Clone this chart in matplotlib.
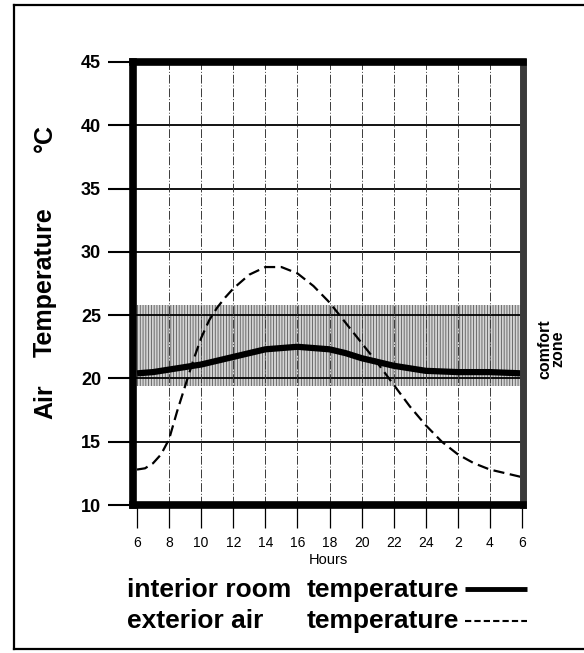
import matplotlib
matplotlib.use("Agg")
import matplotlib.pyplot as plt
from matplotlib.lines import Line2D

plt.rcParams['font.family'] = ['Liberation Sans', 'DejaVu Sans']
plt.rcParams['hatch.linewidth'] = 0.6

# hours of the day, 6 in the morning to 6 next morning (24 -> 30)
hours = [6, 6.5, 7, 7.5, 8, 8.5, 9, 9.5, 10, 10.5, 11, 11.5, 12, 13, 14, 15, 16, 17, 18,
         19, 20, 21, 22, 23, 24, 25, 26, 27, 28, 29, 30]
exterior = [12.8, 12.9, 13.3, 14.0, 15.2, 17.4, 19.4, 21.4, 23.2, 24.6, 25.6, 26.4, 27.1, 28.2, 28.8,
            28.8, 28.3, 27.3, 26.0, 24.4, 22.8, 21.2, 19.5, 17.8, 16.3, 15.0, 14.0, 13.3, 12.8,
            12.5, 12.2]
interior = [20.4, 20.45, 20.5, 20.6, 20.7, 20.8, 20.9, 21.0, 21.1, 21.25, 21.4, 21.55, 21.7, 22.0,
            22.3, 22.4, 22.5, 22.4, 22.3, 22.0, 21.6, 21.3, 21.0, 20.8, 20.6, 20.55, 20.5, 20.5,
            20.5, 20.45, 20.4]

comfort_low = 19.4
comfort_high = 25.8

xtick_pos = [6, 8, 10, 12, 14, 16, 18, 20, 22, 24, 26, 28, 30]
xtick_labels = ['6', '8', '10', '12', '14', '16', '18', '20', '22', '24', '2', '4', '6']
ytick_pos = [10, 15, 20, 25, 30, 35, 40, 45]

fig = plt.figure(figsize=(5.84, 6.53), dpi=100)
ax = fig.add_axes([133 / 584, 1 - 505 / 653, 390 / 584, 443 / 653])

ax.set_xlim(5.75, 30.06)
ax.set_ylim(10, 45)

# comfort zone, vertical hatching
ax.axhspan(comfort_low, comfort_high, facecolor='#d4d4d4', edgecolor='#5a5a5a',
           hatch='||||||', linewidth=0, zorder=1)

# grid
for y in ytick_pos[1:-1]:
    ax.axhline(y, color='black', lw=1.3, zorder=2)
for x in xtick_pos[1:-1]:
    ax.axvline(x, color='#3a3a3a', lw=0.7, ls=(0, (9, 2, 1, 2)), zorder=2)

ax.plot(hours, interior, color='black', lw=4.5, solid_capstyle='butt', zorder=4)
ax.plot(hours, exterior, color='black', lw=1.6, ls=(0, (5, 2.5)), zorder=5)

ax.set_yticks(ytick_pos)
ax.set_yticklabels([str(v) for v in ytick_pos], fontweight='bold', fontsize=13)
ax.set_xticks(xtick_pos)
ax.set_xticklabels(xtick_labels, fontsize=10)
ax.tick_params(axis='y', length=18, width=1.5, pad=5)
ax.tick_params(axis='x', length=16.5, width=0.9, pad=6)

for side in ['left', 'top', 'bottom']:
    ax.spines[side].set_linewidth(5.5)
ax.spines['right'].set_linewidth(5)
ax.spines['right'].set_color('#3a3a3a')
for s in ax.spines.values():
    s.set_capstyle('projecting')
    s.set_zorder(6)

ax.set_xlabel('Hours', fontsize=10.5, labelpad=2)

# y label, words spread out like the original
fig.text(45 / 584, 1 - 402 / 653, 'Air', rotation=90, fontsize=18, fontweight='bold',
         ha='center', va='center')
fig.text(45 / 584, 1 - 282 / 653, 'Temperature', rotation=90, fontsize=18, fontweight='bold',
         ha='center', va='center')
fig.text(45 / 584, 1 - 138 / 653, '°C', rotation=90, fontsize=18, fontweight='bold',
         ha='center', va='center')

fig.text(551 / 584, 1 - 349 / 653, 'comfort\nzone', rotation=90, fontsize=11.5, fontweight='bold',
         ha='center', va='center', linespacing=0.85, multialignment='center')

# legend written out below the chart
fig.text(127 / 584, 1 - 597 / 653, 'interior room', fontsize=19, fontweight='bold', va='baseline')
fig.text(307 / 584, 1 - 597 / 653, 'temperature', fontsize=19, fontweight='bold', va='baseline')
fig.text(127 / 584, 1 - 628 / 653, 'exterior air', fontsize=19, fontweight='bold', va='baseline')
fig.text(307 / 584, 1 - 628 / 653, 'temperature', fontsize=19, fontweight='bold', va='baseline')
fig.add_artist(Line2D([465 / 584, 527 / 584], [1 - 589 / 653, 1 - 589 / 653],
                      color='black', lw=3.5, solid_capstyle='butt'))
fig.add_artist(Line2D([465 / 584, 527 / 584], [1 - 621 / 653, 1 - 621 / 653],
                      color='black', lw=1.5, ls=(0, (3, 1.5))))

# frame around the whole picture
fig.add_artist(Line2D([14 / 584, 14 / 584], [1 - 5 / 653, 1 - 649 / 653], color='black', lw=1.6))
fig.add_artist(Line2D([14 / 584, 1.0], [1 - 5 / 653, 1 - 5 / 653], color='black', lw=1.6))
fig.add_artist(Line2D([14 / 584, 1.0], [1 - 649 / 653, 1 - 649 / 653], color='black', lw=1.6))

fig.savefig('out.png', dpi=100)
